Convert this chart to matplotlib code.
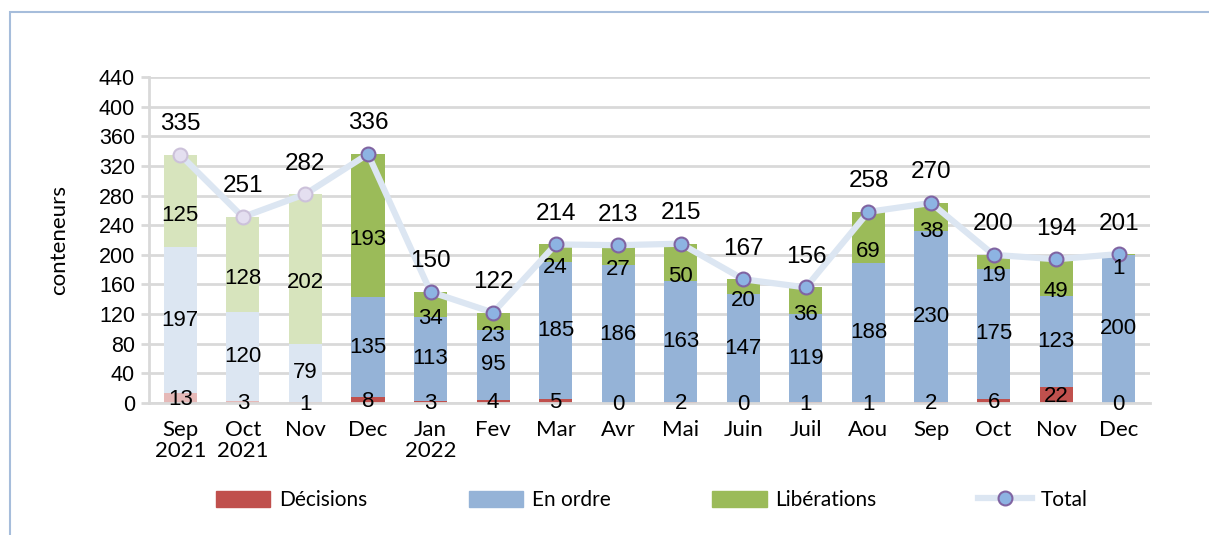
import matplotlib
matplotlib.use("Agg")
import matplotlib.pyplot as plt
import numpy as np
from matplotlib.patches import Rectangle, Patch
from matplotlib.lines import Line2D

months = ["Sep\n2021", "Oct\n2021", "Nov", "Dec", "Jan\n2022", "Fev", "Mar", "Avr",
          "Mai", "Juin", "Juil", "Aou", "Sep", "Oct", "Nov", "Dec"]
decisions = [13, 3, 1, 8, 3, 4, 5, 0, 2, 0, 1, 1, 2, 6, 22, 0]
en_ordre = [197, 120, 79, 135, 113, 95, 185, 186, 163, 147, 119, 188, 230, 175, 123, 200]
liberations = [125, 128, 202, 193, 34, 23, 24, 27, 50, 20, 36, 69, 38, 19, 49, 1]
total = [335, 251, 282, 336, 150, 122, 214, 213, 215, 167, 156, 258, 270, 200, 194, 201]
n_faded = 3  # first three months are drawn pale

num_font = "Liberation Sans"
txt_font = "Lato"

c_dec, c_ord, c_lib = "#c0504d", "#95b3d7", "#9bbb59"
f_dec, f_ord, f_lib = "#e6b9b8", "#dce6f2", "#d7e4bd"

fig = plt.figure(figsize=(12.09, 5.35), dpi=100)
fig.patches.append(Rectangle((10 / 1209, -0.1), 1.2, 1 - 12 / 535 + 0.1,
                             transform=fig.transFigure, fill=False,
                             edgecolor="#a6bddb", lw=1.5))
ax = fig.add_axes([149 / 1209, 1 - 403 / 535, 1001 / 1209, 326 / 535])

x = np.arange(len(months))
d = np.array(decisions)
o = np.array(en_ordre)
l = np.array(liberations)
faded = x < n_faded
w = 0.53

ax.bar(x, d, w, color=np.where(faded, f_dec, c_dec), zorder=2)
ax.bar(x, o, w, bottom=d, color=np.where(faded, f_ord, c_ord), zorder=2)
ax.bar(x, l, w, bottom=d + o, color=np.where(faded, f_lib, c_lib), zorder=2)

ax.plot(x, total, color="#dce6f2", lw=4.5, zorder=3, solid_capstyle="round")
ax.plot(x[faded], np.array(total)[faded], "o", ms=10, mfc="#e4dff0", mec="#ccc1da",
        mew=1.5, zorder=4)
ax.plot(x[~faded], np.array(total)[~faded], "o", ms=10, mfc="#8db3e2", mec="#8064a2",
        mew=1.5, zorder=4)

lab = dict(ha="center", va="center", fontsize=16, family=num_font, zorder=5)
for i in x:
    ax.text(i, d[i] / 2 - 2, str(d[i]), **lab)
    ax.text(i, d[i] + o[i] / 2, str(o[i]), **lab)
    # libérations labels sit a bit low in the original, clear of the markers
    ax.annotate(str(l[i]), (i, d[i] + o[i] + l[i] / 2), xytext=(0, -14),
                textcoords="offset pixels", **lab)
    ax.annotate(str(total[i]), (i, total[i]), xytext=(0, 22), textcoords="offset points",
                ha="center", va="center", fontsize=17.5, family=num_font)

ax.set_xlim(-0.5, len(months) - 0.5)
ax.set_ylim(0, 440)
ax.set_yticks(np.arange(0, 441, 40))
ax.set_yticklabels([str(v) for v in range(0, 441, 40)], family=num_font, fontsize=15.5)
ax.set_xticks(x)
ax.set_xticklabels(months, family=txt_font, fontsize=16, linespacing=1.1)
ax.tick_params(axis="y", length=6, color="#d9d9d9", width=2, pad=4)
ax.tick_params(axis="x", length=0, pad=12)
ax.grid(axis="y", color="#d9d9d9", lw=2, zorder=0)
for s in ["top", "right"]:
    ax.spines[s].set_visible(False)
ax.spines["left"].set_color("#d9d9d9")
ax.spines["left"].set_linewidth(2)
ax.spines["bottom"].set_color("#d9d9d9")
ax.spines["bottom"].set_linewidth(2)
ax.set_ylabel("conteneurs", family=txt_font, fontsize=16)
ax.yaxis.set_label_coords(-80 / 1001, 0.5)

handles = [Patch(color=c_dec), Patch(color=c_ord), Patch(color=c_lib),
           Line2D([], [], color="#dce6f2", lw=4.5, marker="o", ms=10,
                  mfc="#8db3e2", mec="#8064a2", mew=1.5)]
names = ["Décisions", "En ordre", "Libérations", "Total"]
fig.legend(handles, names, loc="center", bbox_to_anchor=(652 / 1209, 1 - 500 / 535), ncol=4,
           frameon=False, prop={"family": txt_font, "size": 15},
           handlelength=2.6, handleheight=0.8, handletextpad=0.4, columnspacing=4.9)

fig.savefig("out.png", dpi=100)
